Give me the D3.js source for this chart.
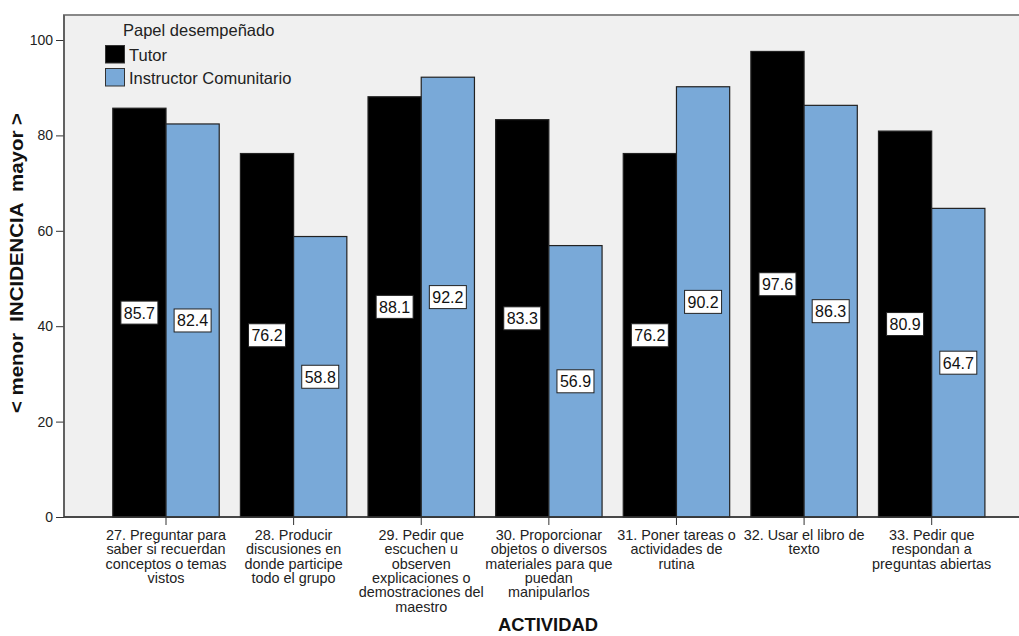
<!DOCTYPE html>
<html><head><meta charset="utf-8">
<script src="https://cdn.jsdelivr.net/npm/d3@7"></script>
<style>body{margin:0;background:#fff;}svg{display:block;font-family:"Liberation Sans",Arial,sans-serif;}</style>
</head><body>
<svg id="c" width="1019" height="636"></svg>
<script>
const categories = ["27","28","29","30","31","32","33"];
const categoryLabels = [
  ["27. Preguntar para","saber si recuerdan","conceptos o temas","vistos"],
  ["28. Producir","discusiones en","donde participe","todo el grupo"],
  ["29. Pedir que","escuchen u","observen","explicaciones o","demostraciones del","maestro"],
  ["30. Proporcionar","objetos o diversos","materiales para que","puedan","manipularlos"],
  ["31. Poner tareas o","actividades de","rutina"],
  ["32. Usar el libro de","texto"],
  ["33. Pedir que","respondan a","preguntas abiertas"]
];
const seriesNames = ["Tutor","Instructor Comunitario"];
const tutor = [85.7,76.2,88.1,83.3,76.2,97.6,80.9];
const instructor = [82.4,58.8,92.2,56.9,90.2,86.3,64.7];
const yTicks = [0,20,40,60,80,100];
const colors = ["#000000","#79a9d8"];

const svg = d3.select("#c");
const plot = {left:64, top:15, right:1019, bottom:517};

svg.append("rect").attr("x",plot.left).attr("y",plot.top)
  .attr("width",plot.right-plot.left+2).attr("height",plot.bottom-plot.top)
  .attr("fill","#f0f0f0").attr("stroke","#888").attr("stroke-width",2);

const x0 = d3.scaleBand().domain(categories).range([102.2,995.5]).paddingInner(0.166).paddingOuter(0.083);
const x1 = d3.scaleBand().domain(seriesNames).range([0,x0.bandwidth()]);
const y = d3.scaleLinear().domain([0,100]).range([plot.bottom,40]);

const data = categories.map((c,i)=>({cat:c, vals:[tutor[i],instructor[i]]}));

const g = svg.append("g");
const groups = g.selectAll("g.grp").data(data).join("g").attr("transform",d=>`translate(${x0(d.cat)},0)`);
groups.selectAll("rect").data(d=>d.vals.map((v,j)=>({v,s:seriesNames[j],j})))
  .join("rect")
  .attr("x",d=>x1(d.s)).attr("width",x1.bandwidth())
  .attr("y",d=>y(d.v)).attr("height",d=>y(0)-y(d.v))
  .attr("fill",d=>colors[d.j]).attr("stroke","#222").attr("stroke-width",1.2);

// value labels
groups.each(function(d){
  const gg = d3.select(this);
  d.vals.forEach((v,j)=>{
    const cx = x1(seriesNames[j]) + x1.bandwidth()/2;
    const cy = y(v/2);
    gg.append("rect").attr("x",cx-18.5).attr("y",cy-11.5).attr("width",37).attr("height",23)
      .attr("fill","#fff").attr("stroke","#222").attr("stroke-width",1);
    gg.append("text").attr("x",cx).attr("y",cy+6).attr("text-anchor","middle")
      .attr("font-size",16).attr("fill","#111").text(v.toFixed(1));
  });
});

// y axis
const yAxis = svg.append("g").attr("transform",`translate(${plot.left},0)`)
  .call(d3.axisLeft(y).tickValues(yTicks).tickSize(8).tickPadding(3));
yAxis.select(".domain").remove();
yAxis.selectAll("line").attr("stroke","#333");
yAxis.selectAll("text").attr("font-size",14).attr("fill","#222").attr("font-family","Liberation Sans, Arial, sans-serif");
svg.append("line").attr("x1",plot.left).attr("x2",plot.left).attr("y1",plot.top).attr("y2",plot.bottom).attr("stroke","#555").attr("stroke-width",1.5);

// x axis
const xAxis = svg.append("g").attr("transform",`translate(0,${plot.bottom})`)
  .call(d3.axisBottom(x0).tickSize(8).tickFormat(""));
xAxis.select(".domain").remove();
xAxis.selectAll("line").attr("stroke","#333");
svg.append("line").attr("x1",plot.left).attr("x2",plot.right).attr("y1",plot.bottom).attr("y2",plot.bottom).attr("stroke","#333").attr("stroke-width",1.5);

categories.forEach((c,i)=>{
  const cx = x0(c)+x0.bandwidth()/2;
  const t = svg.append("text").attr("x",cx).attr("y",540)
    .attr("text-anchor","middle").attr("font-size",14.4).attr("fill","#222");
  categoryLabels[i].forEach((ln,k)=>{
    t.append("tspan").attr("x",cx).attr("dy",k===0?0:14.3).text(ln);
  });
});

// axis titles
svg.append("text").attr("x",548).attr("y",631).attr("text-anchor","middle")
  .attr("font-size",18).attr("font-weight","bold").attr("fill","#111")
  .attr("textLength",100).attr("lengthAdjust","spacingAndGlyphs").text("ACTIVIDAD");
svg.append("text").attr("transform","translate(23,263) rotate(-90)").attr("text-anchor","middle")
  .attr("font-size",18.5).attr("font-weight","bold").attr("fill","#111")
  .attr("textLength",300).attr("lengthAdjust","spacingAndGlyphs")
  .style("white-space","pre").text("< menor  INCIDENCIA  mayor >");

// legend
const leg = svg.append("g");
leg.append("text").attr("x",123).attr("y",36).attr("font-size",16.5).attr("fill","#222").text("Papel desempeñado");
seriesNames.forEach((s,j)=>{
  leg.append("rect").attr("x",105.5).attr("y",45.5+j*23).attr("width",19).attr("height",17.5)
    .attr("fill",colors[j]).attr("stroke","#333").attr("stroke-width",1);
  leg.append("text").attr("x",129).attr("y",61+j*22.5).attr("font-size",16.5).attr("fill","#222").text(s);
});
</script>
</body></html>
